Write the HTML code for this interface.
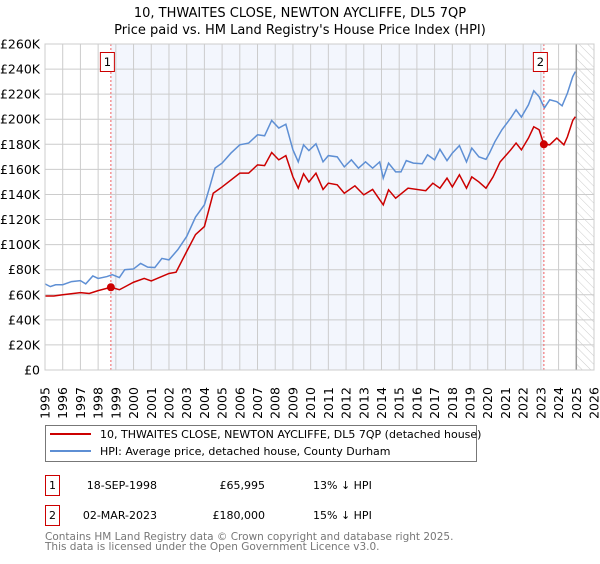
<!DOCTYPE html>
<html><head><meta charset="utf-8"><style>
body{margin:0;background:#fff;font-family:"DejaVu Sans","Liberation Sans",sans-serif;}
svg text{font-family:"DejaVu Sans","Liberation Sans",sans-serif;}
</style></head><body>
<svg id="c" width="600" height="560" viewBox="0 0 600 560" xmlns="http://www.w3.org/2000/svg">
<defs><pattern id="hatch" width="6" height="6" patternUnits="userSpaceOnUse" patternTransform="rotate(-45)"><line x1="0" y1="0" x2="0" y2="6" stroke="#ccc" stroke-width="1"/></pattern></defs>
<text x="300" y="17" text-anchor="middle" font-size="13">10, THWAITES CLOSE, NEWTON AYCLIFFE, DL5 7QP</text>
<text x="300" y="34" text-anchor="middle" font-size="13">Price paid vs. HM Land Registry's House Price Index (HPI)</text>
<g id="plot"></g>
<g>
<rect x="45.5" y="425.5" width="431" height="36" fill="#fff" stroke="#777"/>
<line x1="50" y1="434" x2="91" y2="434" stroke="#cc0000" stroke-width="2"/>
<text x="100" y="438" font-size="11">10, THWAITES CLOSE, NEWTON AYCLIFFE, DL5 7QP (detached house)</text>
<line x1="50" y1="451" x2="91" y2="451" stroke="#5e8fd4" stroke-width="2"/>
<text x="100" y="455" font-size="11">HPI: Average price, detached house, County Durham</text>
</g>
<g font-size="11">
<rect x="45.5" y="475.5" width="14" height="20" fill="#fff" stroke="#cc0000"/>
<text x="52.5" y="489" text-anchor="middle">1</text>
<text x="157" y="489" text-anchor="end">18-SEP-1998</text>
<text x="265" y="489" text-anchor="end">£65,995</text>
<text x="313" y="489">13% ↓ HPI</text>
<rect x="45.5" y="505.5" width="14" height="20" fill="#fff" stroke="#cc0000"/>
<text x="52.5" y="519" text-anchor="middle">2</text>
<text x="157" y="519" text-anchor="end">02-MAR-2023</text>
<text x="265" y="519" text-anchor="end">£180,000</text>
<text x="313" y="519">15% ↓ HPI</text>
</g>
<text x="45" y="540" font-size="10.5" fill="#777">Contains HM Land Registry data © Crown copyright and database right 2025.</text>
<text x="45" y="550" font-size="10.5" fill="#777">This data is licensed under the Open Government Licence v3.0.</text>
</svg>
<script>
const hpiYears=[1995.0,1995.3,1995.6,1996.0,1996.5,1997.0,1997.3,1997.7,1998.0,1998.5,1998.8,1999.2,1999.5,2000.0,2000.4,2000.8,2001.2,2001.6,2002.0,2002.5,2003.0,2003.5,2004.0,2004.3,2004.6,2005.0,2005.5,2006.0,2006.5,2007.0,2007.4,2007.8,2008.2,2008.6,2009.0,2009.3,2009.6,2009.9,2010.3,2010.7,2011.0,2011.5,2011.9,2012.3,2012.7,2013.1,2013.5,2013.9,2014.1,2014.4,2014.8,2015.1,2015.4,2015.8,2016.3,2016.6,2017.0,2017.3,2017.7,2018.0,2018.4,2018.8,2019.1,2019.5,2019.9,2020.1,2020.4,2020.8,2021.3,2021.6,2021.9,2022.3,2022.6,2022.9,2023.2,2023.5,2023.9,2024.2,2024.5,2024.8,2024.95];
const hpiValues=[68.7,66.5,68,68,70.5,71.3,68.7,75,73,74.5,76,73.7,80,80.6,85,82,81.7,89,87.8,96,106.5,122,131.7,146,161,165,173,179.6,181,187.6,186.8,199,193,196,175.6,166,179.6,175,180.4,166,171,170,162,167.6,161,166,161,166,153,165,158,158,167,165,164.5,171.6,167.6,176,167,173,179,166,177,170,168,173,182,191.6,201,207.5,201.7,211.5,222.7,218,209,215.5,214,210.7,220.8,234,238];
const redYears=[1995.0,1995.5,1996.0,1997.0,1997.5,1998.0,1998.72,1999.2,2000.0,2000.6,2001.0,2002.0,2002.4,2003.0,2003.5,2004.0,2004.5,2005.0,2006.0,2006.5,2007.0,2007.4,2007.8,2008.2,2008.6,2009.0,2009.3,2009.6,2009.9,2010.3,2010.7,2011.0,2011.5,2011.9,2012.5,2013.0,2013.5,2014.1,2014.4,2014.8,2015.5,2016.5,2016.9,2017.3,2017.7,2018.0,2018.4,2018.8,2019.1,2019.5,2019.9,2020.3,2020.7,2021.3,2021.6,2021.9,2022.3,2022.6,2022.9,2023.17,2023.5,2023.9,2024.3,2024.5,2024.8,2024.95];
const redValues=[59,59,60,61.7,61,63.3,66,64,70,73,71,77,78,94.5,108,114.4,141,146,157,157,163.6,163,173.5,167.6,171,154,145,156.5,150,157,144,149,147.7,141,146.9,139.7,144,131.7,143.7,137,145,143,149,145,153,146,155.7,145,154,150,145,154,166,175.6,181,175.6,185,194,191.6,180,179.6,185,179.6,186,199,202];
const yTicks=[0,20,40,60,80,100,120,140,160,180,200,220,240,260];
const sales=[[1998.72,66],[2023.17,180]];
const X0=45,X1=594,Y0=370,Y1=44;
const xs=y=>X0+(y-1995)/31*(X1-X0);
const ys=v=>Y0-v/260*(Y0-Y1);
const NS="http://www.w3.org/2000/svg";
const g=document.getElementById('plot');
function mk(t,a){const e=document.createElementNS(NS,t);for(const k in a)e.setAttribute(k,a[k]);g.appendChild(e);return e;}
let e=mk('rect',{x:xs(1998.72),y:Y1,width:xs(2023.17)-xs(1998.72),height:Y0-Y1,fill:'#f3f6fd'});


e=mk('rect',{x:xs(2025),y:Y1,width:X1-xs(2025),height:Y0-Y1,fill:'url(#hatch)'});


for(let yr=1995;yr<=2026;yr++){
 e=mk('line',{x1:xs(yr),x2:xs(yr),y1:Y1,y2:Y0,stroke:'#ccc','stroke-width':1});
 
 
 e=mk('text',{x:0,y:0,'font-size':12.5,transform:`translate(${xs(yr)+4.5},${Y0+33}) rotate(-90)`,'text-anchor':'middle'});
 e.textContent=yr;
 
 
}
yTicks.forEach(v=>{
 e=mk('line',{x1:X0,x2:X1,y1:ys(v),y2:ys(v),stroke:'#ccc','stroke-width':1});
 
 
 e=mk('text',{x:X0-5,y:ys(v)+4.5,'font-size':12.5,'text-anchor':'end'});
 e.textContent=v===0?'£0':'£'+v+'K';
 
 
});
e=mk('line',{x1:xs(2025),x2:xs(2025),y1:Y1,y2:Y0,stroke:'#999','stroke-width':1.5});


e=mk('polyline',{points:hpiYears.map((y,i)=>xs(y)+','+ys(hpiValues[i])).join(' '),fill:'none',stroke:'#5e8fd4','stroke-width':1.5});


e=mk('polyline',{points:redYears.map((y,i)=>xs(y)+','+ys(redValues[i])).join(' '),fill:'none',stroke:'#cc0000','stroke-width':1.5});


sales.forEach((s,i)=>{
 e=mk('line',{x1:xs(s[0]),x2:xs(s[0]),y1:Y1,y2:Y0,stroke:'#f06060','stroke-width':1,'stroke-dasharray':'2,2'});
 
 
 e=mk('circle',{cx:xs(s[0]),cy:ys(s[1]),r:4,fill:'#cc0000'});
 
 
 e=mk('rect',{x:xs(s[0])-10.5,y:52.5,width:14,height:19,fill:'#fff',stroke:'#cc0000'});
 
 
 e=mk('text',{x:xs(s[0])-3.5,y:66,'font-size':11.5,'text-anchor':'middle'});
 e.textContent=i+1;
 
 
});
e=mk('rect',{x:X0,y:Y1,width:X1-X0,height:Y0-Y1,fill:'none',stroke:'#ccc'});


</script>
</body></html>
